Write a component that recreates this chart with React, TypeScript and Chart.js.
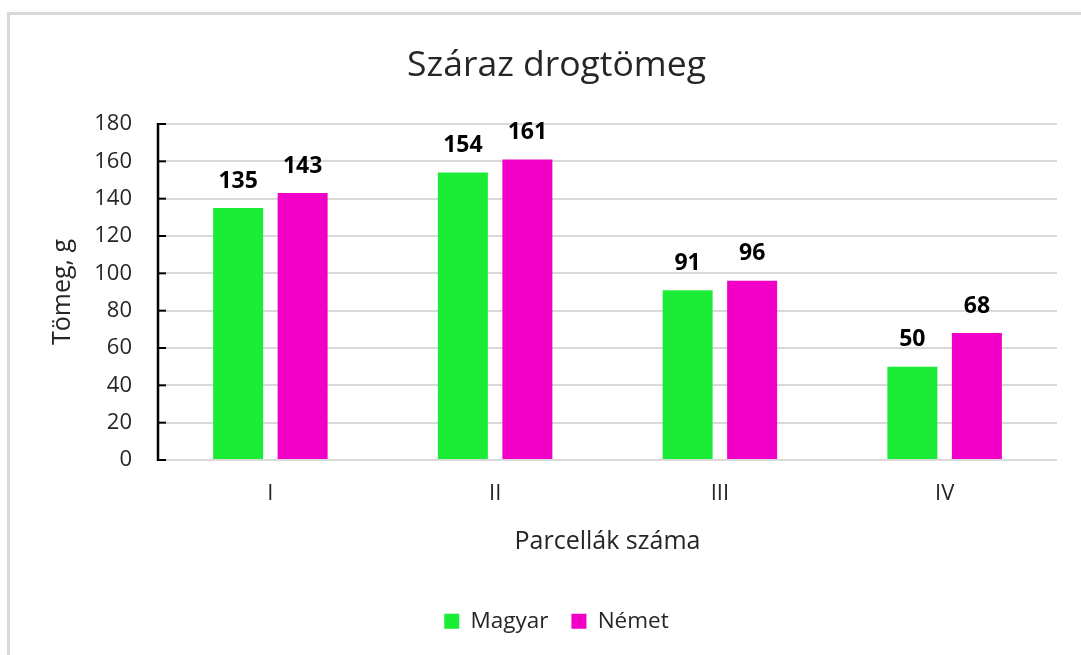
import React, { useEffect, useRef } from "react";
import { Chart, registerables } from "chart.js";

Chart.register(...registerables);

const categories = ["I", "II", "III", "IV"];
const seriesNames = ["Magyar", "Német"];
const magyarValues = [135, 154, 91, 50];
const nemetValues = [143, 161, 96, 68];
const yMin = 0;
const yMax = 180;
const yStep = 20;
const titleText = "Száraz drogtömeg";
const xTitleText = "Parcellák száma";
const yTitleText = "Tömeg, g";

const FONT = "'Open Sans', 'Noto Sans', sans-serif";
const TEXT = "#262626";
const GREEN = "#1bec36";
const PINK = "#f200c8";
const GRID = "#d9d9d9";

const LEFT_PAD = 56;
const AREA_LEFT = 158;

const framePlugin = {
  id: "frame",
  beforeDraw(chart: any) {
    const ctx = chart.ctx;
    ctx.save();
    ctx.strokeStyle = GRID;
    ctx.lineWidth = 3;
    ctx.beginPath();
    ctx.moveTo(8.5, 655);
    ctx.lineTo(8.5, 13.5);
    ctx.lineTo(1081, 13.5);
    ctx.stroke();
    ctx.restore();
  },
};

const axisPlugin = {
  id: "yaxisline",
  afterDatasetsDraw(chart: any) {
    const ctx = chart.ctx;
    const y = chart.scales.y;
    const area = chart.chartArea;
    ctx.save();
    ctx.strokeStyle = "#000";
    ctx.lineWidth = 2.5;
    ctx.beginPath();
    ctx.moveTo(area.left, area.top - 1);
    ctx.lineTo(area.left, area.bottom + 1);
    ctx.stroke();
    ctx.lineWidth = 2;
    y.ticks.forEach((t: any) => {
      const py = y.getPixelForValue(t.value);
      ctx.beginPath();
      ctx.moveTo(area.left, py);
      ctx.lineTo(area.left + 8, py);
      ctx.stroke();
    });
    ctx.restore();
  },
};

const labelPlugin = {
  id: "valuelabels",
  afterDatasetsDraw(chart: any) {
    const ctx = chart.ctx;
    ctx.save();
    ctx.font = `bold 23px ${FONT}`;
    ctx.fillStyle = "#000";
    ctx.textAlign = "center";
    ctx.textBaseline = "alphabetic";
    chart.data.datasets.forEach((ds: any, i: number) => {
      const meta = chart.getDatasetMeta(i);
      meta.data.forEach((el: any, j: number) => {
        ctx.fillText(String(ds.data[j]), el.x, el.y - 20.5);
      });
    });
    ctx.restore();
  },
};

export default function App() {
  const ref = useRef<HTMLCanvasElement>(null);
  useEffect(() => {
    if (!ref.current) return;
    const chart = new Chart(ref.current, {
      type: "bar",
      data: {
        labels: categories,
        datasets: [
          {
            label: seriesNames[0],
            data: magyarValues,
            backgroundColor: GREEN,
            categoryPercentage: 0.574,
            barPercentage: 0.775,
          },
          {
            label: seriesNames[1],
            data: nemetValues,
            backgroundColor: PINK,
            categoryPercentage: 0.574,
            barPercentage: 0.775,
          },
        ],
      },
      options: {
        responsive: false,
        animation: false,
        layout: { padding: { left: LEFT_PAD, right: 24, top: 0, bottom: 12.5 } },
        plugins: {
          title: {
            display: true,
            text: titleText,
            color: TEXT,
            font: { family: FONT, size: 35.5, weight: "normal" },
            padding: { top: 44.7, bottom: 36.7 },
          },
          legend: {
            position: "bottom",
            labels: {
              boxWidth: 15,
              boxHeight: 15,
              padding: 23,
              color: TEXT,
              font: { family: FONT, size: 22.5 },
            },
          },
          tooltip: { enabled: false },
        },
        scales: {
          x: {
            grid: { display: false, drawTicks: false },
            border: { display: false },
            ticks: { color: TEXT, font: { family: FONT, size: 22 }, padding: 21 },
            title: {
              display: true,
              text: xTitleText,
              color: TEXT,
              font: { family: FONT, size: 25 },
              padding: { top: 0, bottom: 30 },
            },
            afterFit: (s: any) => {
              s.height = 127;
            },
          },
          y: {
            min: yMin,
            max: yMax,
            ticks: { stepSize: yStep, color: TEXT, font: { family: FONT, size: 22 }, padding: 26 },
            grid: { color: GRID, lineWidth: 2, drawTicks: false },
            border: { display: false },
            title: {
              display: true,
              text: yTitleText,
              color: TEXT,
              font: { family: FONT, size: 25 },
              padding: { top: 63 - LEFT_PAD - 15, bottom: 0 },
            },
            afterFit: (s: any) => {
              s.width = AREA_LEFT - LEFT_PAD;
            },
          },
        },
      },
      plugins: [framePlugin, axisPlugin, labelPlugin],
    });
    return () => chart.destroy();
  }, []);
  return (
    <div style={{ position: "fixed", left: 0, top: 0, width: 1081, height: 655, background: "#fff" }}>
      <canvas ref={ref} width={1081} height={655} style={{ display: "block" }} />
    </div>
  );
}
